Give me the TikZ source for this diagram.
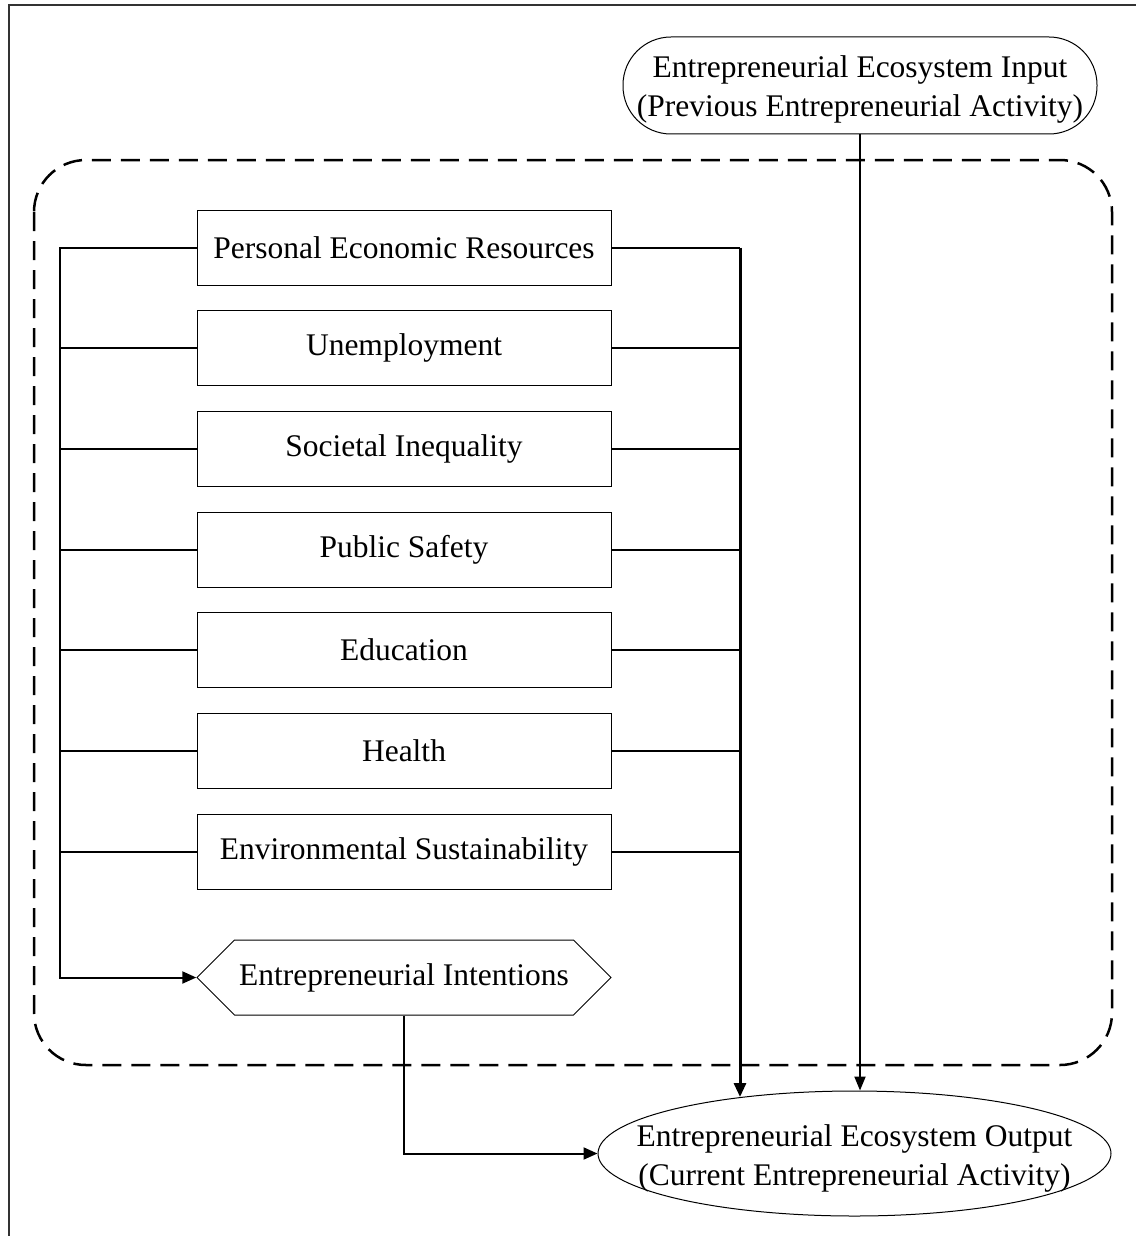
\documentclass[tikz,border=0pt]{standalone}
\usepackage{fontspec}
\setmainfont{Liberation Serif}
\usetikzlibrary{arrows.meta,shapes.geometric,shapes.symbols,calc}
\begin{document}
\begin{tikzpicture}[x=1pt,y=-1pt,
  txt/.style={font=\fontsize{31.5}{39.5}\selectfont},
  box/.style={draw,line width=1pt,minimum width=414pt,minimum height=75pt,inner sep=0pt,txt},
  conn/.style={line width=2pt},
  bus/.style={line width=3pt},
  tip/.style={-{Triangle[length=14pt,width=12pt]}},
  tipthin/.style={-{Triangle[length=14pt,width=11pt]}},
  big/.style={txt,align=center,inner sep=0pt}]
\useasboundingbox (0,0) rectangle (1136,1236);
% frame
\draw[line width=1.5pt,black!80] (9,1236) -- (9,5) -- (1136,5);
% dashed container
\draw[line width=2.5pt,dash pattern=on 19pt off 10pt,rounded corners=52pt] (34,160) rectangle (1112,1065);
% input
\node[draw,line width=1pt,rounded corners=48pt,minimum width=474pt,minimum height=97pt,inner sep=0pt] (in) at (860,85.5) {};
\node[big] (intxt) at ($(in.center)+(0,4)$) {Entrepreneurial Ecosystem Input\\(Previous Entrepreneurial Activity)};
% boxes
\node[box] (b1) at (404,247.5) {Personal Economic Resources};
\node[box] (b2) at (404,348) {Unemployment};
\node[box] (b3) at (404,448.5) {Societal Inequality};
\node[box] (b4) at (404,549.5) {Public Safety};
\node[box] (b5) at (404,650) {Education};
\node[box] (b6) at (404,750.5) {Health};
\node[box] (b7) at (404,851.5) {Environmental Sustainability};
% hexagon
\node[draw,line width=1pt,signal,signal to=west and east,signal pointer angle=90,minimum width=414pt,minimum height=75pt,inner sep=0pt,txt] (hex) at (404,977.5) {Entrepreneurial Intentions};
% output
\node[draw,ellipse,line width=1pt,minimum width=513pt,minimum height=125pt,inner sep=0pt] (out) at (854.5,1153.5) {};
\node[big] (outtxt) at ($(out.center)+(0,5)$) {Entrepreneurial Ecosystem Output\\(Current Entrepreneurial Activity)};
\coordinate (L) at (60,0);
\coordinate (R) at (740,0);
\coordinate (rEnd) at (740,1097);
% left bus
\foreach \b in {b2,b3,b4,b5,b6,b7}{\draw[conn] (\b.west) -- (\b.west -| L);}
\draw[conn,tip] (b1.west) -- (b1.west -| L) |- (hex.west);
% right bus
\foreach \b in {b1,b2,b3,b4,b5,b6,b7}{\draw[conn] (\b.east) -- (\b.east -| R);}
\draw[bus,tip] (b1.east -| R) -- (rEnd);
% input arrow
\draw[conn,tipthin] (in.south) -- (in.south |- out.north);
% intentions arrow
\draw[conn,tip] (hex.south) |- (out.west);
\end{tikzpicture}
\end{document}
